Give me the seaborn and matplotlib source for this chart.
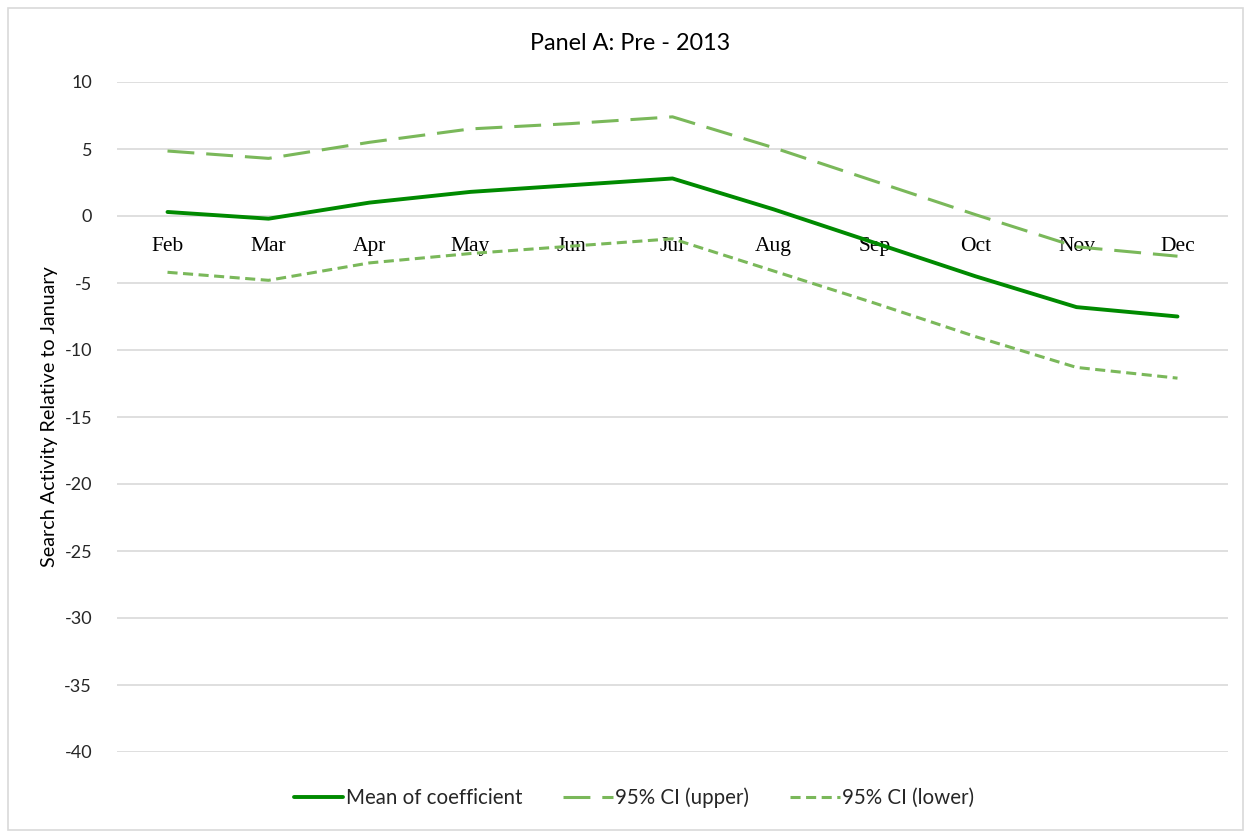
import matplotlib
matplotlib.use("Agg")
import matplotlib.pyplot as plt
from matplotlib.lines import Line2D
from matplotlib.patches import Rectangle
import seaborn as sns
import pandas as pd

months = ["Feb", "Mar", "Apr", "May", "Jun", "Jul", "Aug", "Sep", "Oct", "Nov", "Dec"]
mean_coef = [0.3, -0.2, 1.0, 1.8, 2.3, 2.8, 0.5, -2.0, -4.5, -6.8, -7.5]
ci_upper = [4.85, 4.3, 5.5, 6.5, 6.9, 7.4, 5.1, 2.6, 0.1, -2.3, -3.0]
ci_lower = [-4.2, -4.8, -3.5, -2.8, -2.25, -1.7, -4.1, -6.5, -9.0, -11.3, -12.1]
y_ticks = [10, 5, 0, -5, -10, -15, -20, -25, -30, -35, -40]

dark_green = "#008a00"
light_green = "#7ab85a"
sans = ["Lato", "DejaVu Sans"]
serif = ["Liberation Serif", "DejaVu Serif"]
upper_dash = [8.8, 3.9]
lower_dash = [3.3, 1.8]

sns.set_theme(style="white")
plt.rcParams["font.family"] = sans

df = pd.DataFrame({"month": months, "mean": mean_coef,
                   "upper": ci_upper, "lower": ci_lower})

fig = plt.figure(figsize=(12.49, 8.33), dpi=100)
fig.patch.set_facecolor("white")
fig.add_artist(Rectangle((8 / 1249, 3 / 833), 1235 / 1249, 822 / 833,
                         transform=fig.transFigure, fill=False,
                         edgecolor="#d9d9d9", linewidth=1.2))

ax = fig.add_axes([117 / 1249, 1 - 752 / 833, 1111 / 1249, 670 / 833])
ax.set_facecolor("white")

for y in y_ticks:
    ax.axhline(y, color="#d9d9d9", linewidth=1.2, zorder=0)

sns.lineplot(data=df, x="month", y="upper", ax=ax, color=light_green,
             linewidth=2.2, sort=False, label="_nolegend_")
ax.lines[-1].set_dashes(upper_dash)
sns.lineplot(data=df, x="month", y="lower", ax=ax, color=light_green,
             linewidth=2.2, sort=False, label="_nolegend_")
ax.lines[-1].set_dashes(lower_dash)
sns.lineplot(data=df, x="month", y="mean", ax=ax, color=dark_green,
             linewidth=2.8, sort=False, label="_nolegend_")

# category axis crosses the value axis at zero
ax.spines["bottom"].set_position(("data", 0))
for s in ax.spines.values():
    s.set_visible(False)

ax.set_xlim(-0.5, len(months) - 0.5)
ax.set_ylim(-40, 10)
ax.set_yticks(y_ticks)
ax.set_yticklabels([str(v) for v in y_ticks], fontsize=13, color="#262626",
                   fontfamily=sans)
ax.set_xticks(range(len(months)))
ax.set_xticklabels(months, fontfamily=serif, fontsize=15.5, color="black")
ax.tick_params(axis="both", length=0)
ax.tick_params(axis="x", pad=15)
ax.tick_params(axis="y", pad=18)
ax.set_xlabel("")
ax.set_ylabel("Search Activity Relative to January", fontsize=14.2,
              color="black")
ax.yaxis.set_label_coords(-0.053, 0.5)

fig.text(630 / 1249, 1 - 43 / 833, "Panel A: Pre - 2013", ha="center",
         va="center", fontsize=16.8, color="black")

handles = [
    Line2D([0], [0], color=dark_green, linewidth=2.8),
    Line2D([0], [0], color=light_green, linewidth=2.2, dashes=upper_dash),
    Line2D([0], [0], color=light_green, linewidth=2.2, dashes=lower_dash),
]
fig.legend(handles, ["Mean of coefficient", "95% CI (upper)", "95% CI (lower)"],
           loc="center", bbox_to_anchor=(634 / 1249, 1 - 798 / 833), ncol=3,
           frameon=False, fontsize=14.8, handlelength=2.4, handletextpad=0.12,
           columnspacing=2.0)

fig.savefig("out.png", dpi=100, facecolor="white")
